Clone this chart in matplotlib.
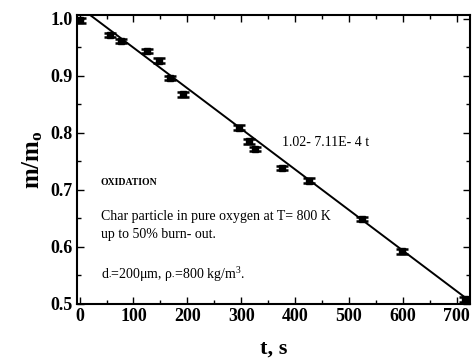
import matplotlib
matplotlib.use("Agg")
import matplotlib.pyplot as plt
import numpy as np
from matplotlib.ticker import MultipleLocator

# Data
t_data = [0, 57, 76, 125, 147, 167, 191, 296, 315, 326, 376, 426, 525, 599, 716]
m_data = [0.997, 0.971, 0.961, 0.943, 0.926, 0.896, 0.867, 0.809, 0.785, 0.771,
          0.738, 0.716, 0.649, 0.592, 0.508]
m_err = [0.004] * len(t_data)

fit_a = 1.02
fit_b = 7.11e-4
t_fit = [-5, 725]

x_ticks = [0, 100, 200, 300, 400, 500, 600, 700]
y_ticks = [0.5, 0.6, 0.7, 0.8, 0.9, 1.0]

plt.rcParams['font.family'] = ['Liberation Serif', 'DejaVu Serif']
plt.rcParams['mathtext.fontset'] = 'custom'
plt.rcParams['mathtext.rm'] = 'Liberation Serif'
plt.rcParams['mathtext.it'] = 'Liberation Serif:italic'
plt.rcParams['mathtext.bf'] = 'Liberation Serif:bold'

fig = plt.figure(figsize=(4.72, 3.6), dpi=100)
ax = fig.add_axes([0.163, 0.156, 0.833, 0.802])

fit_y = [fit_a - fit_b * t for t in t_fit]
ax.plot(t_fit, fit_y, color='black', lw=1.4, zorder=2)
ax.errorbar(t_data, m_data, yerr=m_err, fmt='s', color='black', ms=4,
            capsize=4, capthick=1.8, elinewidth=1.4, zorder=3)

ax.set_xlim(-5, 725)
ax.set_ylim(0.5, 1.006)
ax.set_xticks(x_ticks)
ax.set_yticks(y_ticks)
ax.set_yticklabels([f"{v:.1f}" for v in y_ticks])
ax.xaxis.set_minor_locator(MultipleLocator(50))
ax.yaxis.set_minor_locator(MultipleLocator(0.05))
ax.tick_params(which='both', direction='in', top=True, right=True, width=1.0)
ax.tick_params(which='major', length=5, labelsize=13, pad=3)
ax.tick_params(which='minor', length=3)
for lab in ax.get_xticklabels() + ax.get_yticklabels():
    lab.set_fontweight('bold')
for s in ax.spines.values():
    s.set_linewidth(1.5)

ax.set_xlabel('t, s', fontsize=16, fontweight='bold', labelpad=10)
ax.set_ylabel(r'm/m$_{\mathbf{o}}$', fontsize=18, fontweight='bold', labelpad=4)

ax.text(376, 0.783, '1.02- 7.11E- 4 t', fontsize=10, va='center')
ax.text(39, 0.712, 'OXIDATION', fontsize=7, va='center', fontweight='bold')
ax.text(39, 0.653, 'Char particle in pure oxygen at T= 800 K', fontsize=10, va='center')
ax.text(39, 0.621, 'up to 50% burn- out.', fontsize=10, va='center')
ax.text(39, 0.552, r'd$_{\bullet}$=200μm, ρ$_{\bullet}$=800 kg/m$^3$.', fontsize=10, va='center')

fig.savefig('out.png', dpi=100)
